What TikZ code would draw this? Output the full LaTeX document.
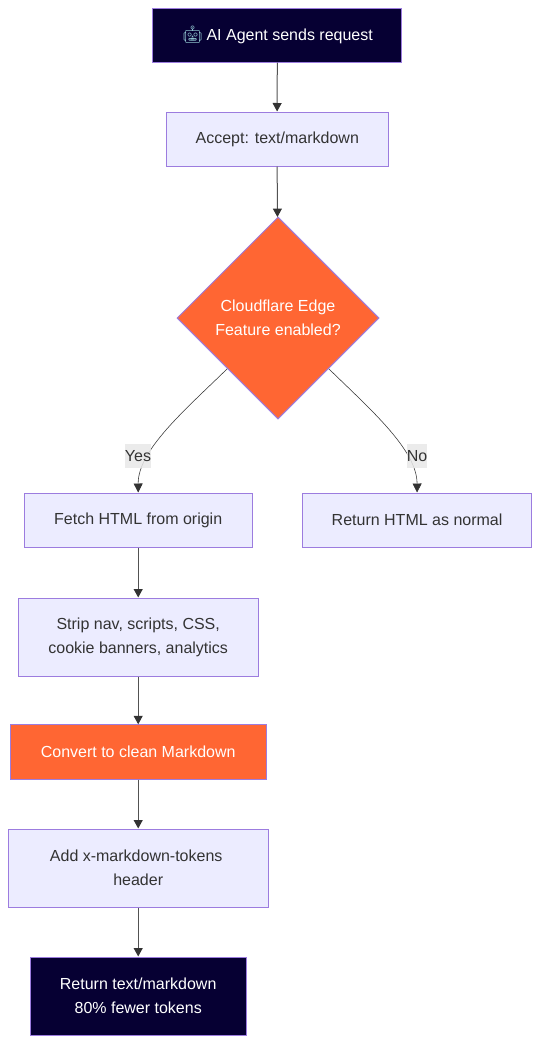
\documentclass[tikz,border=0pt]{standalone}
\usepackage{fontspec}
\setmainfont{Liberation Sans}
\newfontfamily\emojifont{Noto Emoji}
\usetikzlibrary{shapes.geometric,arrows.meta}
\definecolor{navy}{HTML}{060033}
\definecolor{lilac}{HTML}{ECECFF}
\definecolor{edgepurple}{HTML}{9C7CDF}
\definecolor{flare}{HTML}{FF6633}
\definecolor{ink}{HTML}{333333}
\definecolor{robot}{HTML}{8FC4CE}
\tikzset{
  base/.style={draw=edgepurple,line width=1pt,inner sep=0pt,align=center,font=\fontsize{16}{24}\selectfont,minimum height=54pt},
  plainbox/.style={base,fill=lilac,text=ink},
  darkbox/.style={base,fill=navy,text=white},
  hotbox/.style={base,fill=flare,text=white},
  hotdiamond/.style={base,diamond,aspect=1,fill=flare,text=white,minimum width=202pt,minimum height=202pt},
  link/.style={draw=ink!85,line width=1pt,-{Triangle[length=8.5pt,width=9pt,color=ink,fill=ink]}},
  curvelink/.style={draw=ink,line width=0.55pt,-{Triangle[length=9pt,width=9pt,color=ink,fill=ink]}},
  tag/.style={fill=black!9,fill opacity=0.85,text opacity=1,text=ink,inner sep=0pt,minimum height=24pt,font=\fontsize{16}{24}\selectfont}
}
\begin{document}
\begin{tikzpicture}[x=1pt,y=-1pt]
\useasboundingbox (0,0) rectangle (540,1044);
\node[darkbox,minimum width=249pt] (agent) at (277.4,35) {{\emojifont\color{robot}\fontsize{17}{24}\selectfont 🤖}\hspace{3pt}AI Agent sends request};
\node[plainbox,minimum width=222pt] (accept) at (277,139) {\hspace*{0.5pt}Accept: text/markdown};
\node[hotdiamond] (edge) at (278,318) {Cloudflare Edge\\Feature enabled?};
\node[plainbox,minimum width=227.6pt] (fetch) at (138.2,520) {Fetch HTML from origin};
\node[plainbox,minimum width=229.6pt] (normal) at (417.1,520) {Return HTML as normal};
\node[plainbox,minimum width=239.6pt,minimum height=78pt] (strip) at (138.2,637) {Strip nav, scripts, CSS,\\cookie banners, analytics};
\node[hotbox,minimum width=255.6pt,minimum height=54.4pt] (convert) at (138.2,752) {Convert to clean Markdown};
\node[plainbox,minimum width=259.6pt,minimum height=78pt] (add) at (138.2,868) {Add x-markdown-tokens\hspace*{4pt}\\header};
\node[darkbox,minimum width=215.6pt,minimum height=78pt] (done) at (138.2,996) {Return text/markdown\\80\% fewer tokens};

\draw[link] (agent) -- (accept);
\draw[link] (accept) -- (edge);
\draw[link] (fetch) -- (strip);
\draw[link] (strip) -- (convert);
\draw[link] (convert) -- (add);
\draw[link] (add) -- (done);
\draw[curvelink] (edge.south west) .. controls (185,410) and (138,450) .. (fetch.north);
\draw[curvelink] (edge.south east) .. controls (371,410) and (417,450) .. (normal.north);
\node[tag,minimum width=26pt] (yes) at (138,456) {Yes};
\node[tag,minimum width=20pt] (no) at (417,456) {No};
\end{tikzpicture}
\end{document}
